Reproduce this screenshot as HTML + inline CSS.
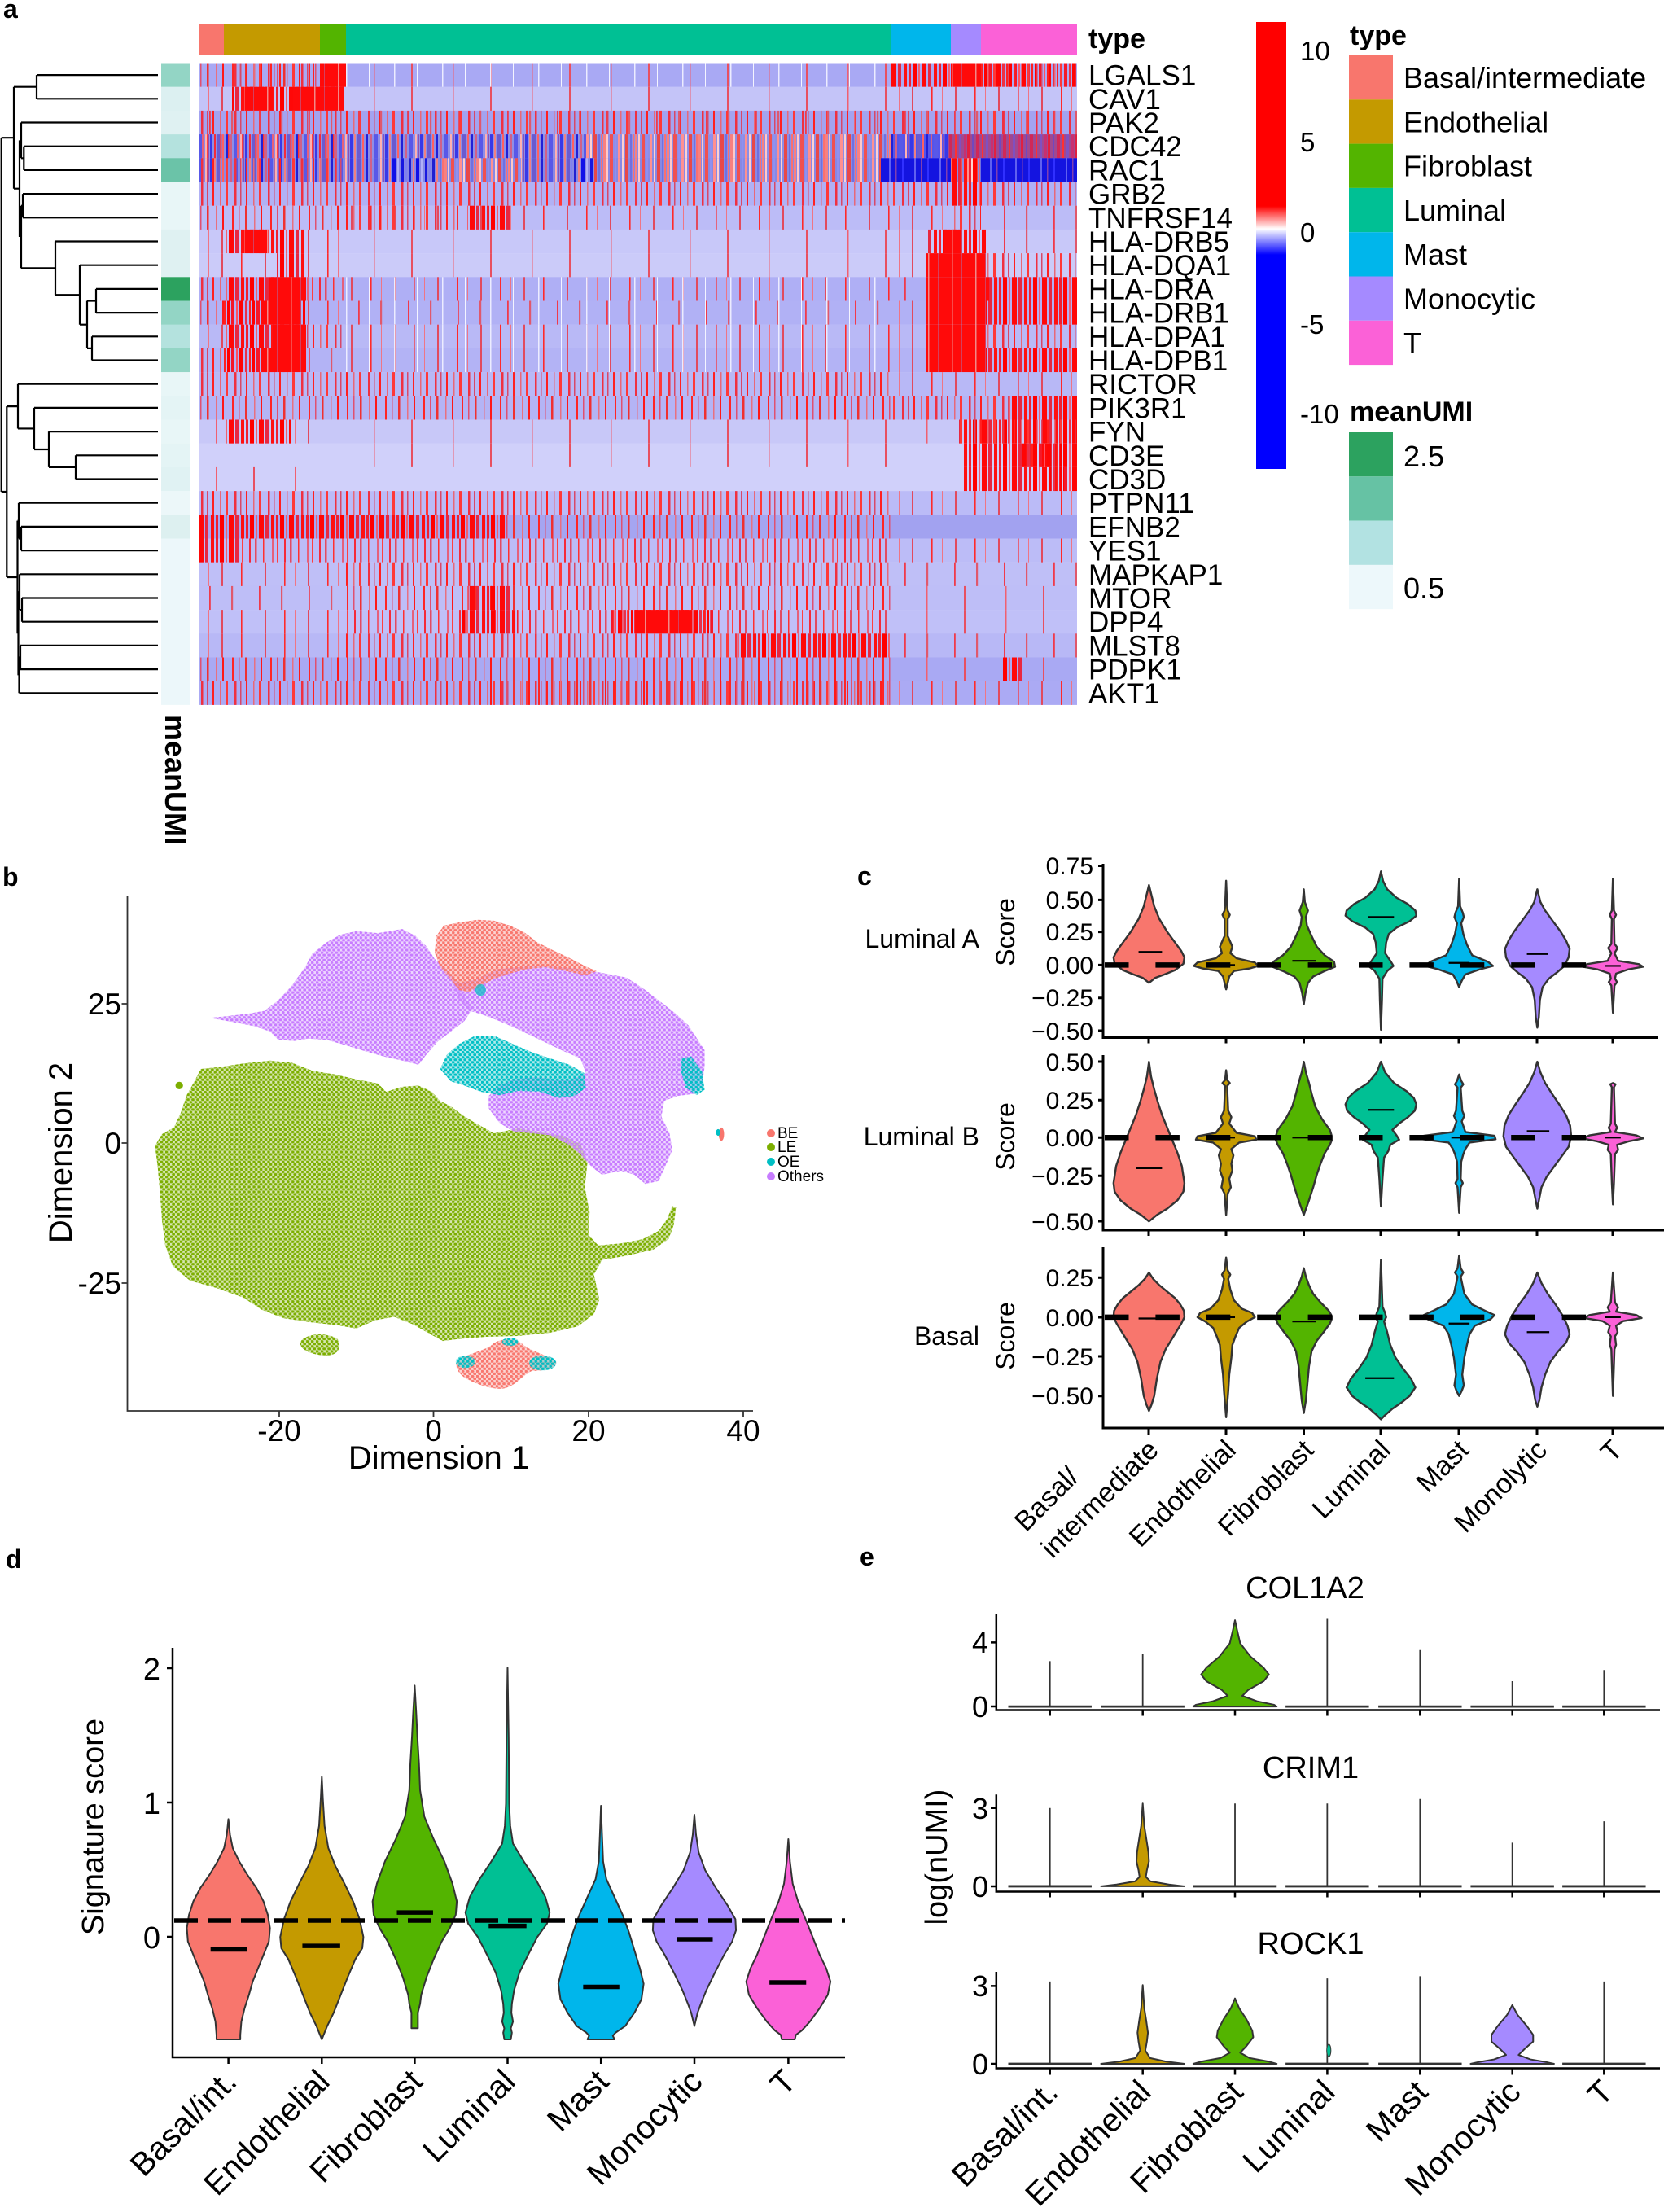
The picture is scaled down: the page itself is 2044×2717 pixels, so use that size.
<!DOCTYPE html>
<html><head><meta charset="utf-8"><style>
html,body{margin:0;padding:0;background:#fff;}
svg{display:block;}
text{font-family:"Liberation Sans",Arial,sans-serif;fill:#000;}
.nv{vector-effect:non-scaling-stroke;}
</style></head><body>
<svg width="2044" height="2717" viewBox="0 0 2044 2717" xmlns="http://www.w3.org/2000/svg">
<defs>
<pattern id="pS" width="53" height="30" patternUnits="userSpaceOnUse"><rect x="7" width="2" height="30" fill="#e24a5e"/><rect x="31" width="1.6" height="30" fill="#ff2a2a"/><rect x="44" width="1" height="30" fill="#ef7585"/></pattern>
<pattern id="pS2" width="97" height="30" patternUnits="userSpaceOnUse"><rect x="20" width="2" height="30" fill="#e85060"/><rect x="71" width="1.5" height="30" fill="#f06070"/></pattern>
<pattern id="pS3" width="61" height="30" patternUnits="userSpaceOnUse"><rect x="13" width="1.8" height="30" fill="#f03a4a"/><rect x="40" width="2.2" height="30" fill="#e0586c"/></pattern>
<pattern id="pM" width="41" height="30" patternUnits="userSpaceOnUse"><rect x="1" width="2.5" height="30" fill="#f03040"/><rect x="8" width="1.5" height="30" fill="#d84868"/><rect x="15" width="2" height="30" fill="#ff2020"/><rect x="24" width="1.5" height="30" fill="#e86878"/><rect x="31" width="3" height="30" fill="#ff3838"/></pattern>
<pattern id="pM2" width="47" height="30" patternUnits="userSpaceOnUse"><rect x="3" width="2" height="30" fill="#ff2525"/><rect x="11" width="1.5" height="30" fill="#e05070"/><rect x="19" width="2.5" height="30" fill="#f03030"/><rect x="30" width="1.5" height="30" fill="#e87080"/><rect x="38" width="2" height="30" fill="#ff1818"/></pattern>
<pattern id="pM3" width="43" height="30" patternUnits="userSpaceOnUse"><rect x="5" width="2" height="30" fill="#f52a3a"/><rect x="12" width="2.5" height="30" fill="#e34a62"/><rect x="22" width="1.5" height="30" fill="#ff3030"/><rect x="33" width="2" height="30" fill="#e6607a"/><rect x="39" width="1" height="30" fill="#ff4040"/></pattern>
<pattern id="pD" width="37" height="30" patternUnits="userSpaceOnUse"><rect x="0" width="4" height="30" fill="#ff1010"/><rect x="6" width="3" height="30" fill="#f02030"/><rect x="11" width="5" height="30" fill="#ff0000"/><rect x="18" width="2" height="30" fill="#f06070"/><rect x="22" width="6" height="30" fill="#ff0808"/><rect x="30" width="4" height="30" fill="#e82840"/></pattern>
<pattern id="pD2" width="31" height="30" patternUnits="userSpaceOnUse"><rect x="0" width="3" height="30" fill="#ff0000"/><rect x="5" width="4" height="30" fill="#f51828"/><rect x="11" width="2" height="30" fill="#ff5060"/><rect x="15" width="5" height="30" fill="#ff0505"/><rect x="22" width="3" height="30" fill="#e8304a"/><rect x="27" width="2" height="30" fill="#ff2020"/></pattern>
<pattern id="pF" width="29" height="30" patternUnits="userSpaceOnUse"><rect width="29" height="30" fill="#ff0a0a"/><rect x="9" width="1.5" height="30" fill="#f08a8a"/><rect x="21" width="1" height="30" fill="#d44060"/></pattern>
<pattern id="pW" width="59" height="30" patternUnits="userSpaceOnUse"><rect x="12" width="1.5" height="30" fill="#ececff"/><rect x="40" width="1" height="30" fill="#f4f4ff"/></pattern>
<pattern id="pB" width="43" height="30" patternUnits="userSpaceOnUse"><rect x="0" width="3" height="30" fill="#3838e8"/><rect x="5" width="2" height="30" fill="#f08080"/><rect x="9" width="4" height="30" fill="#6a5ad0"/><rect x="15" width="2" height="30" fill="#ff6060"/><rect x="19" width="3" height="30" fill="#2020d8"/><rect x="25" width="2" height="30" fill="#d06088"/><rect x="29" width="5" height="30" fill="#5858e8"/><rect x="37" width="2" height="30" fill="#ffb0b0"/><rect x="40" width="2" height="30" fill="#9050b0"/></pattern>
<pattern id="pBS" width="29" height="30" patternUnits="userSpaceOnUse"><rect x="0" width="3" height="30" fill="#1818e0"/><rect x="5" width="2" height="30" fill="#8080f0"/><rect x="9" width="3" height="30" fill="#2020d0"/><rect x="14" width="2" height="30" fill="#f08080"/><rect x="18" width="4" height="30" fill="#1010e8"/><rect x="24" width="2" height="30" fill="#b0b0f8"/></pattern>
<pattern id="pBD" width="31" height="30" patternUnits="userSpaceOnUse"><rect width="31" height="30" fill="#1414e0"/><rect x="7" width="2" height="30" fill="#6060f0"/><rect x="15" width="1.5" height="30" fill="#8040b0"/><rect x="23" width="2" height="30" fill="#3030ff"/></pattern>
<pattern id="pP" width="39" height="30" patternUnits="userSpaceOnUse"><rect x="0" width="3" height="30" fill="#f88080"/><rect x="4" width="2" height="30" fill="#ffc8c8"/><rect x="8" width="4" height="30" fill="#f05050"/><rect x="14" width="2" height="30" fill="#9090f0"/><rect x="18" width="3" height="30" fill="#ff9090"/><rect x="23" width="2" height="30" fill="#ffd0d0"/><rect x="27" width="4" height="30" fill="#e84848"/><rect x="33" width="2" height="30" fill="#7070e0"/><rect x="36" width="2" height="30" fill="#fa7070"/></pattern>
<pattern id="pRP" width="33" height="30" patternUnits="userSpaceOnUse"><rect width="33" height="30" fill="#a04890"/><rect x="0" width="3" height="30" fill="#e02040"/><rect x="6" width="2" height="30" fill="#7048c0"/><rect x="11" width="4" height="30" fill="#d02858"/><rect x="18" width="2" height="30" fill="#ff3030"/><rect x="23" width="3" height="30" fill="#8050c0"/><rect x="29" width="3" height="30" fill="#c83070"/></pattern>
<linearGradient id="cbar" x1="0" y1="0" x2="0" y2="1"><stop offset="0" stop-color="#ff0000"/><stop offset="0.412" stop-color="#ff0000"/><stop offset="0.463" stop-color="#ffffff"/><stop offset="0.521" stop-color="#0000ff"/><stop offset="1" stop-color="#0000ff"/></linearGradient>
<pattern id="dG" width="9" height="12" patternUnits="userSpaceOnUse"><rect width="9" height="12" fill="#7CAE00" fill-opacity="0.3"/><circle cx="2" cy="3" r="3.2" fill="#7CAE00"/><circle cx="6.5" cy="9" r="3.2" fill="#7CAE00"/></pattern>
<pattern id="dP" width="9" height="12" patternUnits="userSpaceOnUse"><rect width="9" height="12" fill="#C77CFF" fill-opacity="0.3"/><circle cx="2" cy="3" r="3.2" fill="#C77CFF"/><circle cx="6.5" cy="9" r="3.2" fill="#C77CFF"/></pattern>
<pattern id="dR" width="9" height="12" patternUnits="userSpaceOnUse"><rect width="9" height="12" fill="#F8766D" fill-opacity="0.3"/><circle cx="2" cy="3" r="3.2" fill="#F8766D"/><circle cx="6.5" cy="9" r="3.2" fill="#F8766D"/></pattern>
<pattern id="dC" width="9" height="12" patternUnits="userSpaceOnUse"><rect width="9" height="12" fill="#00BFC4" fill-opacity="0.3"/><circle cx="2" cy="3" r="3.2" fill="#00BFC4"/><circle cx="6.5" cy="9" r="3.2" fill="#00BFC4"/></pattern>
</defs>
<rect width="2044" height="2717" fill="#fff"/>

<!-- ================= PANEL A ================= -->
<text x="4" y="22" font-size="32" font-weight="bold">a</text>
<rect x="245" y="29" width="30" height="38" fill="#F8766D"/>
<rect x="275" y="29" width="118" height="38" fill="#C49A00"/>
<rect x="393" y="29" width="32" height="38" fill="#53B400"/>
<rect x="425" y="29" width="669" height="38" fill="#00C094"/>
<rect x="1094" y="29" width="74" height="38" fill="#00B6EB"/>
<rect x="1168" y="29" width="37" height="38" fill="#A58AFF"/>
<rect x="1205" y="29" width="118" height="38" fill="#FB61D7"/>
<text x="1337" y="59" font-size="34" font-weight="bold">type</text>

<g transform="translate(0,77.5)"><rect x="245" width="1078" height="29.4" fill="#a9a9f4"/><rect x="245" width="148" height="29.4" fill="url(#pM2)"/><rect x="280" width="113" height="29.4" fill="url(#pM)"/><rect x="393" width="32" height="29.4" fill="url(#pF)"/><rect x="425" width="669" height="29.4" fill="url(#pS2)"/><rect x="425" width="669" height="29.4" fill="url(#pW)"/><rect x="1094" width="74" height="29.4" fill="url(#pD)"/><rect x="1168" width="37" height="29.4" fill="url(#pF)"/><rect x="1205" width="118" height="29.4" fill="url(#pD2)"/><rect x="1205" width="118" height="29.4" fill="url(#pM)"/></g>
<g transform="translate(0,106.7)"><rect x="245" width="1078" height="29.4" fill="#c4c4f8"/><rect x="245" width="40" height="29.4" fill="url(#pS)"/><rect x="285" width="140" height="29.4" fill="url(#pD)"/><rect x="300" width="35" height="29.4" fill="url(#pF)"/><rect x="360" width="62" height="29.4" fill="url(#pF)"/><rect x="425" width="669" height="29.4" fill="url(#pS2)"/><rect x="1094" width="229" height="29.4" fill="url(#pS)"/></g>
<g transform="translate(0,135.9)"><rect x="245" width="1078" height="29.4" fill="#a3a3f0"/><rect x="245" width="1078" height="29.4" fill="url(#pM)"/><rect x="245" width="1078" height="29.4" fill="url(#pS3)"/></g>
<g transform="translate(0,165.1)"><rect x="245" width="1078" height="29.4" fill="#8e8ee6"/><rect x="245" width="475" height="29.4" fill="url(#pB)"/><rect x="245" width="180" height="29.4" fill="url(#pM3)"/><rect x="720" width="374" height="29.4" fill="url(#pP)"/><rect x="1094" width="70" height="29.4" fill="#5454ec"/><rect x="1094" width="70" height="29.4" fill="url(#pB)"/><rect x="1164" width="159" height="29.4" fill="url(#pRP)"/></g>
<g transform="translate(0,194.3)"><rect x="245" width="1078" height="29.4" fill="#8888e4"/><rect x="245" width="235" height="29.4" fill="url(#pB)"/><rect x="245" width="180" height="29.4" fill="url(#pM)"/><rect x="480" width="60" height="29.4" fill="url(#pBS)"/><rect x="540" width="100" height="29.4" fill="url(#pP)"/><rect x="640" width="60" height="29.4" fill="url(#pB)"/><rect x="700" width="30" height="29.4" fill="url(#pBS)"/><rect x="730" width="352" height="29.4" fill="url(#pP)"/><rect x="1082" width="86" height="29.4" fill="url(#pBD)"/><rect x="1168" width="37" height="29.4" fill="url(#pP)"/><rect x="1168" width="37" height="29.4" fill="url(#pD)"/><rect x="1205" width="118" height="29.4" fill="url(#pBD)"/></g>
<g transform="translate(0,223.5)"><rect x="245" width="1078" height="29.4" fill="#b1b1f5"/><rect x="245" width="1078" height="29.4" fill="url(#pM)"/><rect x="1168" width="37" height="29.4" fill="url(#pD)"/></g>
<g transform="translate(0,252.7)"><rect x="245" width="1078" height="29.4" fill="#bcbcf7"/><rect x="245" width="180" height="29.4" fill="url(#pM2)"/><rect x="425" width="669" height="29.4" fill="url(#pS)"/><rect x="425" width="135" height="29.4" fill="url(#pM)"/><rect x="574" width="52" height="29.4" fill="url(#pD)"/><rect x="1094" width="74" height="29.4" fill="url(#pS)"/><rect x="1168" width="37" height="29.4" fill="url(#pM)"/><rect x="1205" width="118" height="29.4" fill="url(#pS3)"/></g>
<g transform="translate(0,281.9)"><rect x="245" width="1078" height="29.4" fill="#c8c8f9"/><rect x="245" width="30" height="29.4" fill="url(#pS)"/><rect x="275" width="101" height="29.4" fill="url(#pD)"/><rect x="300" width="30" height="29.4" fill="url(#pF)"/><rect x="376" width="49" height="29.4" fill="url(#pS)"/><rect x="425" width="669" height="29.4" fill="url(#pS2)"/><rect x="1094" width="46" height="29.4" fill="url(#pS)"/><rect x="1140" width="71" height="29.4" fill="url(#pD)"/><rect x="1160" width="22" height="29.4" fill="url(#pF)"/><rect x="1211" width="112" height="29.4" fill="url(#pS3)"/></g>
<g transform="translate(0,311.1)"><rect x="245" width="1078" height="29.4" fill="#cbcbf9"/><rect x="245" width="95" height="29.4" fill="url(#pS)"/><rect x="340" width="36" height="29.4" fill="url(#pD)"/><rect x="376" width="49" height="29.4" fill="url(#pS)"/><rect x="425" width="669" height="29.4" fill="url(#pS2)"/><rect x="1094" width="44" height="29.4" fill="url(#pS)"/><rect x="1138" width="73" height="29.4" fill="url(#pF)"/><rect x="1211" width="112" height="29.4" fill="url(#pM)"/></g>
<g transform="translate(0,340.3)"><rect x="245" width="1078" height="29.4" fill="#afaff5"/><rect x="245" width="30" height="29.4" fill="url(#pM)"/><rect x="275" width="101" height="29.4" fill="url(#pD)"/><rect x="330" width="46" height="29.4" fill="url(#pF)"/><rect x="376" width="49" height="29.4" fill="url(#pM3)"/><rect x="425" width="669" height="29.4" fill="url(#pS)"/><rect x="425" width="669" height="29.4" fill="url(#pW)"/><rect x="1094" width="44" height="29.4" fill="url(#pS3)"/><rect x="1138" width="77" height="29.4" fill="url(#pF)"/><rect x="1215" width="108" height="29.4" fill="url(#pD)"/></g>
<g transform="translate(0,369.5)"><rect x="245" width="1078" height="29.4" fill="#b1b1f5"/><rect x="245" width="30" height="29.4" fill="url(#pM2)"/><rect x="275" width="101" height="29.4" fill="url(#pD2)"/><rect x="320" width="50" height="29.4" fill="url(#pF)"/><rect x="376" width="49" height="29.4" fill="url(#pS)"/><rect x="425" width="669" height="29.4" fill="url(#pS3)"/><rect x="425" width="669" height="29.4" fill="url(#pW)"/><rect x="1094" width="44" height="29.4" fill="url(#pS)"/><rect x="1138" width="73" height="29.4" fill="url(#pF)"/><rect x="1211" width="112" height="29.4" fill="url(#pD)"/></g>
<g transform="translate(0,398.7)"><rect x="245" width="1078" height="29.4" fill="#b9b9f6"/><rect x="245" width="30" height="29.4" fill="url(#pS)"/><rect x="275" width="101" height="29.4" fill="url(#pD)"/><rect x="335" width="41" height="29.4" fill="url(#pF)"/><rect x="376" width="49" height="29.4" fill="url(#pM)"/><rect x="425" width="669" height="29.4" fill="url(#pS)"/><rect x="425" width="669" height="29.4" fill="url(#pW)"/><rect x="1094" width="44" height="29.4" fill="url(#pS)"/><rect x="1138" width="73" height="29.4" fill="url(#pF)"/><rect x="1211" width="112" height="29.4" fill="url(#pM)"/></g>
<g transform="translate(0,427.9)"><rect x="245" width="1078" height="29.4" fill="#b3b3f5"/><rect x="245" width="30" height="29.4" fill="url(#pM)"/><rect x="275" width="101" height="29.4" fill="url(#pD2)"/><rect x="320" width="56" height="29.4" fill="url(#pF)"/><rect x="376" width="49" height="29.4" fill="url(#pS3)"/><rect x="425" width="669" height="29.4" fill="url(#pS)"/><rect x="425" width="669" height="29.4" fill="url(#pW)"/><rect x="1094" width="44" height="29.4" fill="url(#pS)"/><rect x="1138" width="73" height="29.4" fill="url(#pF)"/><rect x="1211" width="112" height="29.4" fill="url(#pD)"/></g>
<g transform="translate(0,457.1)"><rect x="245" width="1078" height="29.4" fill="#b8b8f6"/><rect x="245" width="849" height="29.4" fill="url(#pM)"/><rect x="1094" width="229" height="29.4" fill="url(#pS)"/></g>
<g transform="translate(0,486.3)"><rect x="245" width="1078" height="29.4" fill="#b4b4f5"/><rect x="245" width="849" height="29.4" fill="url(#pM2)"/><rect x="1094" width="146" height="29.4" fill="url(#pM)"/><rect x="1240" width="83" height="29.4" fill="url(#pD)"/></g>
<g transform="translate(0,515.5)"><rect x="245" width="1078" height="29.4" fill="#c8c8f8"/><rect x="245" width="33" height="29.4" fill="url(#pS2)"/><rect x="278" width="80" height="29.4" fill="url(#pD)"/><rect x="358" width="42" height="29.4" fill="url(#pS)"/><rect x="425" width="669" height="29.4" fill="url(#pS2)"/><rect x="1094" width="84" height="29.4" fill="url(#pS2)"/><rect x="1178" width="145" height="29.4" fill="url(#pD)"/><rect x="1178" width="145" height="29.4" fill="url(#pM)"/></g>
<g transform="translate(0,544.7)"><rect x="245" width="1078" height="29.4" fill="#d0d0fa"/><rect x="425" width="669" height="29.4" fill="url(#pS2)"/><rect x="1182" width="141" height="29.4" fill="url(#pD)"/><rect x="1255" width="50" height="29.4" fill="url(#pD2)"/></g>
<g transform="translate(0,573.9)"><rect x="245" width="1078" height="29.4" fill="#d0d0fa"/><rect x="245" width="155" height="29.4" fill="url(#pS2)"/><rect x="1182" width="141" height="29.4" fill="url(#pD)"/><rect x="1288" width="35" height="29.4" fill="url(#pD2)"/></g>
<g transform="translate(0,603.1)"><rect x="245" width="1078" height="29.4" fill="#bbbbf7"/><rect x="245" width="849" height="29.4" fill="url(#pM)"/><rect x="1094" width="229" height="29.4" fill="url(#pS)"/></g>
<g transform="translate(0,632.3)"><rect x="245" width="1078" height="29.4" fill="#a5a5f1"/><rect x="245" width="377" height="29.4" fill="url(#pD)"/><rect x="622" width="472" height="29.4" fill="url(#pM2)"/><rect x="1094" width="229" height="29.4" fill="#a2a2f0"/></g>
<g transform="translate(0,661.5)"><rect x="245" width="1078" height="29.4" fill="#bcbcf7"/><rect x="245" width="51" height="29.4" fill="url(#pD)"/><rect x="296" width="798" height="29.4" fill="url(#pM3)"/><rect x="1094" width="229" height="29.4" fill="url(#pS)"/></g>
<g transform="translate(0,690.7)"><rect x="245" width="1078" height="29.4" fill="#bfbff7"/><rect x="245" width="180" height="29.4" fill="url(#pS)"/><rect x="425" width="669" height="29.4" fill="url(#pM)"/><rect x="1094" width="229" height="29.4" fill="url(#pS3)"/></g>
<g transform="translate(0,719.9)"><rect x="245" width="1078" height="29.4" fill="#bebef7"/><rect x="245" width="180" height="29.4" fill="url(#pS3)"/><rect x="425" width="669" height="29.4" fill="url(#pM2)"/><rect x="574" width="55" height="29.4" fill="url(#pD)"/><rect x="1094" width="229" height="29.4" fill="url(#pS2)"/></g>
<g transform="translate(0,749.1)"><rect x="245" width="1078" height="29.4" fill="#c0c0f8"/><rect x="245" width="180" height="29.4" fill="url(#pS)"/><rect x="425" width="669" height="29.4" fill="url(#pM3)"/><rect x="567" width="69" height="29.4" fill="url(#pD)"/><rect x="751" width="125" height="29.4" fill="url(#pD2)"/><rect x="780" width="70" height="29.4" fill="url(#pF)"/><rect x="1094" width="229" height="29.4" fill="url(#pS2)"/></g>
<g transform="translate(0,778.3)"><rect x="245" width="1078" height="29.4" fill="#b8b8f6"/><rect x="245" width="180" height="29.4" fill="url(#pS)"/><rect x="425" width="482" height="29.4" fill="url(#pM)"/><rect x="907" width="187" height="29.4" fill="url(#pD)"/><rect x="1094" width="229" height="29.4" fill="url(#pS3)"/></g>
<g transform="translate(0,807.5)"><rect x="245" width="1078" height="29.4" fill="#a9a9f3"/><rect x="245" width="849" height="29.4" fill="url(#pM2)"/><rect x="1094" width="229" height="29.4" fill="url(#pS2)"/><rect x="1230" width="25" height="29.4" fill="url(#pD)"/></g>
<g transform="translate(0,836.7)"><rect x="245" width="1078" height="29.2" fill="#abaaf4"/><rect x="245" width="849" height="29.2" fill="url(#pM)"/><rect x="600" width="494" height="29.2" fill="url(#pM2)"/><rect x="1094" width="229" height="29.2" fill="url(#pS)"/></g>

<g>
<rect x="198" y="77.5" width="36" height="29.4" fill="#93d5c5"/>
<rect x="198" y="106.7" width="36" height="29.4" fill="#dcf0f1"/>
<rect x="198" y="135.9" width="36" height="29.4" fill="#dff1f2"/>
<rect x="198" y="165.1" width="36" height="29.4" fill="#b4e2de"/>
<rect x="198" y="194.3" width="36" height="29.4" fill="#6bc3a8"/>
<rect x="198" y="223.5" width="36" height="58.6" fill="#e8f6f7"/>
<rect x="198" y="281.9" width="36" height="58.6" fill="#dff1f2"/>
<rect x="198" y="340.3" width="36" height="29.4" fill="#2ca25f"/>
<rect x="198" y="369.5" width="36" height="29.4" fill="#93d5c5"/>
<rect x="198" y="398.7" width="36" height="29.4" fill="#b4e2de"/>
<rect x="198" y="427.9" width="36" height="29.4" fill="#93d5c5"/>
<rect x="198" y="457.1" width="36" height="29.4" fill="#e8f6f7"/>
<rect x="198" y="486.3" width="36" height="29.4" fill="#e4f4f5"/>
<rect x="198" y="515.5" width="36" height="29.4" fill="#e8f6f7"/>
<rect x="198" y="544.7" width="36" height="29.4" fill="#e4f4f5"/>
<rect x="198" y="573.9" width="36" height="29.4" fill="#e0f2f3"/>
<rect x="198" y="603.1" width="36" height="29.4" fill="#ecf7f9"/>
<rect x="198" y="632.3" width="36" height="29.4" fill="#ddf0f0"/>
<rect x="198" y="661.5" width="36" height="204.4" fill="#ecf7fa"/>
</g>
<text transform="translate(203,878) rotate(90)" font-size="36" font-weight="bold">meanUMI</text>

<path fill="none" stroke="#000" stroke-width="2.2" d="M45,92.1H194 M45,121.3H194 M26,150.5H194 M29.3,179.7H194 M29.3,208.9H194 M28,238.1H194 M28,267.3H194 M68,296.5H194 M98,325.7H194 M118,354.9H194 M118,384.1H194 M113,413.3H194 M113,442.5H194 M22,471.7H194 M42,500.9H194 M60,530.1H194 M93,559.3H194 M93,588.5H194 M23,617.7H194 M26,646.9H194 M26,676.1H194 M24,705.3H194 M27,734.5H194 M27,763.7H194 M25,792.9H194 M25,822.1H194 M23.5,851.3H194
M45,92.1V121.3 M29.3,179.7V208.9 M26,150.5V194.3 M28,238.1V267.3 M118,354.9V384.1 M113,413.3V442.5 M107,369.5V427.9 M98,325.7V398.7 M68,296.5V362.2 M26,252.7V329.35 M24,172.4V291 M17,106.7V231.7 M1.7,169.2V604
M93,559.3V588.5 M60,530.1V573.9 M42,500.9V552 M22,471.7V526.45 M8.3,499.1V709
M26,646.9V676.1 M23,617.7V661.5 M27,734.5V763.7 M24,705.3V749.1 M25,792.9V822.1 M23.5,807.5V851.3 M22.5,727.2V829.4 M21.5,639.6V778.3
M17,106.7H45 M26,194.3H29.3 M24,172.4H26 M26,252.7H28 M107,369.5H118 M107,427.9H113 M98,398.7H107 M68,362.2H98 M26,329.35H68 M24,291H26 M17,231.7H24 M1.7,169.2H17
M60,573.9H93 M42,552H60 M22,526.45H42 M8.3,499.1H22 M23,661.5H26 M21.5,639.6H23 M24,749.1H27 M22.5,727.2H24 M23.5,807.5H25 M22.5,829.4H23.5 M21.5,778.3H22.5 M8.3,709H21.5 M1.7,604H8.3"/>

<g font-size="35">
<text x="1337" y="104.6">LGALS1</text>
<text x="1337" y="133.8">CAV1</text>
<text x="1337" y="163">PAK2</text>
<text x="1337" y="192.2">CDC42</text>
<text x="1337" y="221.4">RAC1</text>
<text x="1337" y="250.6">GRB2</text>
<text x="1337" y="279.8">TNFRSF14</text>
<text x="1337" y="309">HLA-DRB5</text>
<text x="1337" y="338.2">HLA-DQA1</text>
<text x="1337" y="367.4">HLA-DRA</text>
<text x="1337" y="396.6">HLA-DRB1</text>
<text x="1337" y="425.8">HLA-DPA1</text>
<text x="1337" y="455">HLA-DPB1</text>
<text x="1337" y="484.2">RICTOR</text>
<text x="1337" y="513.4">PIK3R1</text>
<text x="1337" y="542.6">FYN</text>
<text x="1337" y="571.8">CD3E</text>
<text x="1337" y="601">CD3D</text>
<text x="1337" y="630.2">PTPN11</text>
<text x="1337" y="659.4">EFNB2</text>
<text x="1337" y="688.6">YES1</text>
<text x="1337" y="717.8">MAPKAP1</text>
<text x="1337" y="747">MTOR</text>
<text x="1337" y="776.2">DPP4</text>
<text x="1337" y="805.4">MLST8</text>
<text x="1337" y="834.6">PDPK1</text>
<text x="1337" y="863.8">AKT1</text>
</g>

<rect x="1543" y="27" width="37" height="549" fill="url(#cbar)"/>
<g font-size="33">
<text x="1597" y="74">10</text>
<text x="1597" y="186">5</text>
<text x="1597" y="297">0</text>
<text x="1597" y="410">-5</text>
<text x="1597" y="520">-10</text>
</g>
<text x="1658" y="55" font-size="34" font-weight="bold">type</text>
<rect x="1657" y="68" width="54" height="54.3" fill="#F8766D"/>
<rect x="1657" y="122.3" width="54" height="54.3" fill="#C49A00"/>
<rect x="1657" y="176.6" width="54" height="54.3" fill="#53B400"/>
<rect x="1657" y="230.9" width="54" height="54.3" fill="#00C094"/>
<rect x="1657" y="285.2" width="54" height="54.3" fill="#00B6EB"/>
<rect x="1657" y="339.5" width="54" height="54.3" fill="#A58AFF"/>
<rect x="1657" y="393.8" width="54" height="54.3" fill="#FB61D7"/>
<g font-size="36">
<text x="1724" y="108">Basal/intermediate</text>
<text x="1724" y="162.3">Endothelial</text>
<text x="1724" y="216.6">Fibroblast</text>
<text x="1724" y="270.9">Luminal</text>
<text x="1724" y="325.2">Mast</text>
<text x="1724" y="379.5">Monocytic</text>
<text x="1724" y="433.8">T</text>
</g>
<text x="1658" y="517" font-size="34" font-weight="bold">meanUMI</text>
<rect x="1657" y="531" width="54" height="54.3" fill="#2ca25f"/>
<rect x="1657" y="585.3" width="54" height="54.3" fill="#66c2a4"/>
<rect x="1657" y="639.6" width="54" height="54.3" fill="#b2e2e2"/>
<rect x="1657" y="693.9" width="54" height="54.3" fill="#edf8fb"/>
<text x="1724" y="573" font-size="36">2.5</text>
<text x="1724" y="735" font-size="36">0.5</text>

<!-- ================= PANEL B ================= -->
<text x="3" y="1088" font-size="32" font-weight="bold">b</text>
<g transform="translate(0,1040) scale(0.66327,0.5102)">
<path fill="url(#dG)" d="M372,535 L410,530 450,522 500,515 540,520 580,540 620,548 660,560 700,570 715,590 745,578 775,575 800,590 815,612 835,625 855,645 880,665 915,690 960,678 1000,688 1040,695 1075,715 1088,760 1083,820 1092,880 1090,935 1108,960 1150,955 1190,945 1220,925 1236,895 1245,865 1252,868 1248,910 1238,945 1210,970 1160,985 1115,995 1100,1030 1110,1090 1100,1125 1070,1155 1020,1170 960,1178 900,1180 850,1185 820,1190 795,1172 765,1150 730,1132 695,1140 660,1160 625,1152 575,1145 525,1135 485,1115 450,1085 400,1062 352,1045 320,1010 306,960 300,900 296,830 292,770 287,720 300,692 322,676 335,640 345,600 360,565 Z"/>
<path fill="url(#dG)" d="M555,1195 C560,1175 600,1165 625,1185 C635,1205 625,1228 600,1225 C580,1222 558,1215 555,1195 Z"/>
<ellipse cx="332" cy="575" rx="7" ry="9" fill="#7CAE00"/>
<path fill="url(#dP)" d="M388,412 L420,408 460,402 490,395 515,370 540,335 565,290 578,258 605,230 630,212 660,203 700,208 745,198 770,215 790,240 805,270 830,300 850,330 860,360 875,390 860,420 835,445 810,470 790,500 775,525 745,515 710,505 670,490 640,478 605,465 570,462 545,468 515,465 500,445 470,432 430,422 Z"/>
<path fill="url(#dP)" d="M840,330 L880,320 920,295 960,290 1000,285 1040,290 1080,295 1120,305 1160,315 1190,340 1220,370 1250,400 1275,430 1290,460 1305,490 1305,530 1300,575 1285,595 1255,600 1230,612 1225,650 1240,690 1245,730 1232,770 1220,805 1195,812 1175,790 1150,780 1115,790 1095,770 1075,740 1050,715 1020,695 985,690 950,685 925,665 905,630 905,600 925,575 950,560 990,555 1030,560 1060,560 1085,545 1075,510 1040,490 1000,465 960,440 925,420 895,405 870,395 850,370 Z"/>
<path fill="url(#dR)" d="M805,255 L808,215 822,190 850,182 885,176 915,178 945,190 970,205 995,230 1025,250 1055,268 1080,285 1105,300 1085,310 1050,300 1010,290 975,295 945,305 915,318 890,335 868,350 850,345 835,320 815,290 Z"/>
<path fill="url(#dC)" d="M815,535 L828,500 850,475 880,455 915,455 950,475 985,495 1020,510 1055,525 1082,545 1085,580 1065,600 1035,605 1000,590 960,588 925,598 890,590 860,575 835,565 Z"/>
<path fill="url(#dC)" d="M1262,510 L1280,505 1300,540 1305,585 1290,598 1270,580 1262,545 Z"/>
<ellipse cx="890" cy="345" rx="10" ry="14" fill="#00BFC4" fill-opacity="0.7"/>
<path fill="url(#dR)" d="M846,1240 C860,1222 895,1215 910,1200 C925,1182 955,1180 970,1200 C985,1215 1010,1222 1030,1240 C1032,1258 1000,1262 985,1262 C965,1275 955,1300 930,1305 C905,1306 880,1292 862,1280 C850,1268 842,1255 846,1240 Z"/>
<ellipse cx="862" cy="1240" rx="18" ry="15" fill="url(#dC)"/>
<ellipse cx="1005" cy="1243" rx="25" ry="18" fill="url(#dC)"/>
<ellipse cx="945" cy="1192" rx="15" ry="10" fill="url(#dC)"/>
<ellipse cx="1336" cy="692" rx="5" ry="16" fill="#F8766D"/>
<ellipse cx="1330" cy="688" rx="4" ry="8" fill="#00BFC4"/>
</g>
<g stroke="#333" stroke-width="1.8" fill="none">
<path d="M156.5,1101V1733H925"/>
<path d="M343,1733v7 M532.5,1733v7 M723,1733v7 M913,1733v7 M156.5,1233h-7 M156.5,1404h-7 M156.5,1576h-7"/>
</g>
<g font-size="37" text-anchor="middle">
<text x="343" y="1770">-20</text>
<text x="532.5" y="1770">0</text>
<text x="723" y="1770">20</text>
<text x="913" y="1770">40</text>
</g>
<g font-size="37" text-anchor="end">
<text x="149" y="1246">25</text>
<text x="149" y="1417">0</text>
<text x="149" y="1589">-25</text>
</g>
<text x="539" y="1804" font-size="40" text-anchor="middle">Dimension 1</text>
<text transform="translate(88,1416) rotate(-90)" font-size="40" text-anchor="middle">Dimension 2</text>
<circle cx="947" cy="1392" r="5" fill="#F8766D"/>
<circle cx="947" cy="1409" r="5" fill="#7CAE00"/>
<circle cx="947" cy="1427" r="5" fill="#00BFC4"/>
<circle cx="947" cy="1445" r="5" fill="#C77CFF"/>
<g font-size="19">
<text x="955" y="1398">BE</text>
<text x="955" y="1415">LE</text>
<text x="955" y="1433">OE</text>
<text x="955" y="1451">Others</text>
</g>

<!-- ================= PANEL C ================= -->
<text x="1053" y="1087" font-size="32" font-weight="bold">c</text>
<g transform="translate(1040,1040) scale(0.64029,0.52301)" stroke="#333" stroke-width="2.4" stroke-linejoin="round">
<path class="nv" fill="#F8766D" d="M580,90 L584,110 590,140 600,170 615,200 630,225 642,245 648,260 646,275 630,290 610,300 592,308 580,320 568,308 550,300 530,290 514,275 512,260 518,245 530,225 545,200 560,170 570,140 576,110 Z"/>
<path class="nv" fill="#C49A00" d="M728,80 L730,140 731,150 735,160 731,170 731,210 733,215 740,235 736,250 748,262 783,272 790,280 773,286 743,292 734,305 731,320 728,335 725,320 722,305 713,292 683,286 666,280 673,272 708,262 720,250 716,235 723,215 725,210 725,170 721,160 725,150 726,140 Z"/>
<path class="nv" fill="#53B400" d="M877,100 L879,130 885,150 881,165 883,185 892,210 902,235 917,255 935,270 937,282 917,292 895,305 885,320 880,345 877,370 874,345 869,320 859,305 837,292 817,282 819,270 837,255 852,235 862,210 871,185 873,165 869,150 875,130 Z"/>
<path class="nv" fill="#00C094" d="M1025,58 L1029,80 1037,100 1055,120 1077,135 1091,150 1093,162 1080,175 1055,190 1040,205 1035,225 1033,250 1043,268 1049,280 1037,292 1028,310 1027,360 1025,430 1023,360 1022,310 1013,292 1001,280 1007,268 1017,250 1015,225 1010,205 995,190 970,175 957,162 959,150 973,135 995,120 1013,100 1021,80 Z"/>
<path class="nv" fill="#00B6EB" d="M1175,75 L1177,140 1182,155 1184,165 1179,180 1183,205 1190,230 1200,255 1230,270 1240,280 1215,288 1187,300 1180,315 1175,330 1170,315 1163,300 1135,288 1110,280 1120,270 1150,255 1160,230 1167,205 1171,180 1166,165 1168,155 1173,140 Z"/>
<path class="nv" fill="#A58AFF" d="M1325,100 L1331,130 1340,150 1355,175 1370,200 1380,220 1387,240 1385,260 1377,280 1363,295 1347,310 1335,330 1330,360 1328,400 1325,425 1322,400 1320,360 1315,330 1303,310 1287,295 1273,280 1265,260 1263,240 1270,220 1280,200 1295,175 1310,150 1319,130 Z"/>
<path class="nv" fill="#FB61D7" d="M1470,75 L1472,150 1476,160 1472,170 1473,228 1479,238 1473,250 1480,268 1520,276 1528,282 1500,288 1476,298 1474,310 1478,318 1473,326 1470,390 1467,326 1462,318 1466,310 1464,298 1440,288 1412,282 1420,276 1460,268 1467,250 1461,238 1467,228 1468,170 1464,160 1468,150 Z"/>
<path class="nv" fill="#F8766D" d="M580,505 L584,540 590,570 597,600 605,630 615,660 625,690 635,720 643,750 648,790 646,810 635,830 615,850 595,865 580,880 565,865 545,850 525,830 514,810 512,790 517,750 525,720 535,690 545,660 555,630 563,600 570,570 576,540 Z"/>
<path class="nv" fill="#C49A00" d="M728,525 L730,548 735,555 730,562 732,620 738,635 734,650 748,672 783,680 786,688 753,695 738,710 742,725 738,745 740,760 734,780 737,800 731,815 728,865 725,815 719,800 722,780 716,760 718,745 714,725 718,710 703,695 670,688 673,680 708,672 722,650 718,635 724,620 726,562 721,555 726,548 Z"/>
<path class="nv" fill="#53B400" d="M877,505 L881,530 887,555 892,580 899,610 912,640 927,665 932,685 927,700 917,720 909,745 902,770 895,800 887,830 877,865 867,830 859,800 852,770 845,745 837,720 827,700 822,685 827,665 842,640 855,610 862,580 867,555 873,530 Z"/>
<path class="nv" fill="#00C094" d="M1025,505 L1033,530 1050,555 1075,575 1088,590 1093,605 1090,620 1077,635 1060,650 1047,665 1055,678 1060,688 1043,700 1039,715 1031,730 1028,780 1025,845 1022,780 1019,730 1011,715 1007,700 990,688 995,678 1003,665 990,650 973,635 960,620 957,605 962,590 975,575 1000,555 1017,530 Z"/>
<path class="nv" fill="#00B6EB" d="M1175,535 L1179,550 1183,558 1178,566 1181,620 1185,632 1180,645 1187,670 1243,679 1245,687 1195,695 1187,710 1183,722 1179,740 1178,780 1182,790 1178,800 1175,860 1172,800 1168,790 1172,780 1171,740 1167,722 1163,710 1155,695 1105,687 1107,679 1163,670 1170,645 1165,632 1169,620 1172,566 1167,558 1171,550 Z"/>
<path class="nv" fill="#A58AFF" d="M1325,505 L1331,530 1340,555 1353,580 1367,605 1380,630 1388,655 1390,680 1385,705 1370,730 1355,755 1343,775 1333,800 1325,850 1317,800 1307,775 1295,755 1280,730 1265,705 1260,680 1262,655 1270,630 1283,605 1297,580 1310,555 1319,530 Z"/>
<path class="nv" fill="#FB61D7" d="M1470,555 L1475,558 1472,565 1474,650 1478,660 1474,670 1515,678 1528,685 1500,692 1478,700 1480,712 1474,722 1472,790 1470,840 1468,790 1466,722 1460,712 1462,700 1440,692 1412,685 1425,678 1466,670 1462,660 1466,650 1468,565 1465,558 Z"/>
<path class="nv" fill="#F8766D" d="M580,1000 L588,1015 600,1030 615,1045 630,1060 640,1075 647,1090 648,1105 642,1120 632,1140 622,1160 612,1180 602,1210 595,1250 590,1290 585,1310 580,1325 575,1310 570,1290 565,1250 558,1210 548,1180 538,1160 528,1140 518,1120 512,1105 513,1090 520,1075 530,1060 545,1045 560,1030 572,1015 Z"/>
<path class="nv" fill="#C49A00" d="M728,965 L731,995 736,1005 732,1015 736,1040 743,1065 758,1085 778,1095 783,1105 768,1115 753,1130 746,1150 740,1170 738,1200 734,1240 732,1280 728,1340 724,1280 722,1240 718,1200 716,1170 710,1150 703,1130 688,1115 673,1105 678,1095 698,1085 713,1065 720,1040 724,1015 720,1005 725,995 Z"/>
<path class="nv" fill="#53B400" d="M877,990 L881,1010 887,1030 895,1050 909,1070 925,1090 932,1105 927,1120 915,1140 902,1160 892,1185 887,1220 884,1260 881,1300 877,1330 873,1300 870,1260 867,1220 862,1185 852,1160 839,1140 827,1120 822,1105 829,1090 845,1070 859,1050 867,1030 873,1010 Z"/>
<path class="nv" fill="#00C094" d="M1025,970 L1028,1080 1033,1095 1035,1105 1031,1115 1037,1140 1043,1170 1053,1200 1067,1225 1083,1250 1091,1270 1080,1290 1065,1305 1047,1320 1033,1335 1025,1345 1017,1335 1003,1320 985,1305 970,1290 959,1270 967,1250 983,1225 997,1200 1007,1170 1013,1140 1019,1115 1015,1105 1017,1095 1022,1080 Z"/>
<path class="nv" fill="#00B6EB" d="M1175,960 L1178,990 1183,1000 1178,1010 1185,1050 1200,1075 1225,1090 1243,1100 1235,1110 1205,1125 1195,1145 1190,1170 1185,1200 1181,1240 1184,1265 1180,1278 1175,1290 1170,1278 1166,1265 1169,1240 1165,1200 1160,1170 1155,1145 1145,1125 1115,1110 1107,1100 1125,1090 1150,1075 1165,1050 1172,1010 1167,1000 1172,990 Z"/>
<path class="nv" fill="#A58AFF" d="M1325,1000 L1333,1025 1345,1050 1360,1075 1373,1100 1383,1125 1387,1145 1380,1165 1365,1185 1350,1210 1340,1240 1333,1270 1329,1300 1325,1315 1321,1300 1317,1270 1310,1240 1300,1210 1285,1185 1270,1165 1263,1145 1267,1125 1277,1100 1290,1075 1305,1050 1317,1025 Z"/>
<path class="nv" fill="#FB61D7" d="M1470,1000 L1474,1070 1480,1082 1476,1092 1515,1100 1525,1107 1490,1114 1476,1125 1479,1140 1474,1150 1476,1170 1473,1180 1470,1290 1467,1180 1464,1170 1466,1150 1461,1140 1464,1125 1450,1114 1415,1107 1425,1100 1464,1092 1460,1082 1466,1070 Z"/>
<path class="nv" stroke="#000" stroke-width="2.2" fill="none" d="M560,247H605 M710,278H745 M855,268H900 M1000,165H1050 M1155,273H1195 M1305,252H1345 M1455,280H1485 M555,755H605 M710,683H745 M855,683H900 M1000,618H1050 M1160,683H1190 M1305,668H1348 M1455,683H1485 M560,1108H610 M710,1105H745 M855,1115H900 M995,1248H1050 M1155,1120H1195 M1305,1140H1348 M1455,1105H1485"/>
</g>
<g stroke="#000" stroke-width="6.5" stroke-dasharray="29.5 32.9" fill="none">
<path d="M1357,1185.4H1950"/>
<path d="M1357,1397.2H1950"/>
<path d="M1357,1617.9H1950"/>
</g>
<g stroke="#000" stroke-width="3" fill="none">
<path d="M1355,1061V1274.5H2037 M1355,1296V1511H2044 M1355,1532V1754H2044"/>
<path d="M1411,1274.5v7 M1506,1274.5v7 M1601.5,1274.5v7 M1696,1274.5v7 M1792,1274.5v7 M1888,1274.5v7 M1981,1274.5v7"/>
<path d="M1411,1511v7 M1506,1511v7 M1601.5,1511v7 M1696,1511v7 M1792,1511v7 M1888,1511v7 M1981,1511v7"/>
<path d="M1411,1754v8 M1506,1754v8 M1601.5,1754v8 M1696,1754v8 M1792,1754v8 M1888,1754v8 M1981,1754v8"/>
<path d="M1349,1063.5h6 M1349,1105.4h6 M1349,1144.6h6 M1349,1185.4h6 M1349,1225.7h6 M1349,1266h6 M1349,1304h6 M1349,1351.2h6 M1349,1397.2h6 M1349,1444.3h6 M1349,1500h6 M1349,1569.3h6 M1349,1618h6 M1349,1666h6 M1349,1714.7h6"/>
</g>
<g font-size="30" text-anchor="end">
<text x="1343" y="1074">0.75</text>
<text x="1343" y="1116">0.50</text>
<text x="1343" y="1155">0.25</text>
<text x="1343" y="1196">0.00</text>
<text x="1343" y="1236">−0.25</text>
<text x="1343" y="1277">−0.50</text>
<text x="1343" y="1315">0.50</text>
<text x="1343" y="1362">0.25</text>
<text x="1343" y="1408">0.00</text>
<text x="1343" y="1455">−0.25</text>
<text x="1343" y="1511">−0.50</text>
<text x="1343" y="1580">0.25</text>
<text x="1343" y="1629">0.00</text>
<text x="1343" y="1677">−0.25</text>
<text x="1343" y="1725">−0.50</text>
</g>
<g font-size="32">
<text x="1203" y="1164" text-anchor="end">Luminal A</text>
<text x="1203" y="1407" text-anchor="end">Luminal B</text>
<text x="1203" y="1652" text-anchor="end">Basal</text>
<text transform="translate(1246,1145) rotate(-90)" text-anchor="middle">Score</text>
<text transform="translate(1246,1396) rotate(-90)" text-anchor="middle">Score</text>
<text transform="translate(1246,1641) rotate(-90)" text-anchor="middle">Score</text>
</g>
<g font-size="34">
<g transform="translate(1425,1783) rotate(-45)"><text text-anchor="end">intermediate</text><text x="-187" y="-46">Basal/</text></g>
<text transform="translate(1520,1783) rotate(-45)" text-anchor="end">Endothelial</text>
<text transform="translate(1615.5,1783) rotate(-45)" text-anchor="end">Fibroblast</text>
<text transform="translate(1710,1783) rotate(-45)" text-anchor="end">Luminal</text>
<text transform="translate(1806,1783) rotate(-45)" text-anchor="end">Mast</text>
<text transform="translate(1902,1783) rotate(-45)" text-anchor="end">Monolytic</text>
<text transform="translate(1995,1783) rotate(-45)" text-anchor="end">T</text>
</g>

<!-- ================= PANEL D ================= -->
<text x="7" y="1926" font-size="32" font-weight="bold">d</text>
<g transform="translate(0,1860) scale(0.66327,0.54657)" stroke="#333" stroke-width="2" stroke-linejoin="round">
<path class="nv" fill="#F8766D" d="M423,685 L426,720 431,750 443,780 458,810 475,840 488,870 496,900 500,930 498,960 488,990 478,1020 468,1050 461,1080 453,1110 447,1140 445,1170 445,1180 401,1180 401,1170 399,1140 393,1110 385,1080 378,1050 368,1020 358,990 348,960 346,930 350,900 358,870 371,840 388,810 403,780 415,750 420,720 Z"/>
<path class="nv" fill="#C49A00" d="M596,590 L598,640 601,700 608,750 621,790 638,830 654,870 666,910 673,950 671,975 658,1000 644,1040 631,1080 618,1120 606,1150 596,1180 586,1150 574,1120 561,1080 548,1040 534,1000 521,975 519,950 526,910 538,870 554,830 571,790 584,750 591,700 594,640 Z"/>
<path class="nv" fill="#53B400" d="M768,385 L771,450 773,500 776,560 778,620 786,680 803,730 823,780 838,830 846,870 844,900 833,930 818,960 803,1000 790,1040 780,1080 778,1100 774,1120 774,1155 762,1155 762,1120 758,1100 756,1080 746,1040 733,1000 718,960 703,930 692,900 690,870 698,830 713,780 733,730 750,680 758,620 760,560 763,500 765,450 Z"/>
<path class="nv" fill="#00C094" d="M940,345 L942,500 943,650 945,700 950,740 970,780 992,820 1010,860 1018,895 1013,920 995,950 978,990 962,1030 952,1070 948,1100 947,1120 950,1140 946,1155 948,1165 946,1180 934,1180 932,1165 934,1155 930,1140 933,1120 932,1100 928,1070 918,1030 902,990 885,950 867,920 862,895 870,860 888,820 910,780 930,740 935,700 937,650 938,500 Z"/>
<path class="nv" fill="#00B6EB" d="M1113,655 L1115,720 1117,780 1123,820 1138,860 1153,900 1165,940 1175,980 1185,1020 1192,1055 1188,1090 1175,1120 1158,1150 1140,1165 1135,1172 1138,1180 1088,1180 1091,1172 1086,1165 1068,1150 1051,1120 1038,1090 1034,1055 1041,1020 1051,980 1061,940 1073,900 1088,860 1103,820 1109,780 1111,720 Z"/>
<path class="nv" fill="#A58AFF" d="M1286,675 L1289,720 1294,760 1306,800 1326,840 1348,880 1362,910 1363,935 1356,960 1341,990 1324,1030 1308,1070 1298,1100 1292,1120 1286,1150 1280,1120 1274,1100 1264,1070 1248,1030 1231,990 1216,960 1209,935 1210,910 1224,880 1246,840 1266,800 1278,760 1283,720 Z"/>
<path class="nv" fill="#FB61D7" d="M1460,730 L1463,780 1468,830 1478,870 1492,910 1505,950 1518,990 1530,1020 1538,1050 1533,1080 1518,1110 1500,1140 1485,1160 1474,1170 1472,1180 1448,1180 1446,1170 1435,1160 1420,1140 1402,1110 1387,1080 1382,1050 1390,1020 1402,990 1415,950 1428,910 1442,870 1452,830 1457,780 Z"/>
<path class="nv" stroke="#000" stroke-width="5.5" fill="none" d="M390,978H457 M560,970H630 M735,895H802 M905,925H975 M1080,1062H1147 M1253,955H1320 M1425,1052H1493"/>
</g>
<path d="M214,2359H1038" stroke="#000" stroke-width="5.5" stroke-dasharray="29 12" fill="none"/>
<g stroke="#000" stroke-width="2.5" fill="none">
<path d="M212,2024V2527H1038"/>
<path d="M280.6,2527v8 M395.3,2527v8 M509.4,2527v8 M623.5,2527v8 M738.2,2527v8 M853,2527v8 M968.4,2527v8 M212,2049h-7 M212,2214h-7 M212,2379h-7"/>
</g>
<g font-size="38" text-anchor="end">
<text x="197" y="2063">2</text>
<text x="197" y="2228">1</text>
<text x="197" y="2393">0</text>
</g>
<text transform="translate(127,2244) rotate(-90)" font-size="38" text-anchor="middle">Signature score</text>
<g font-size="40" text-anchor="end">
<text transform="translate(293,2559) rotate(-45)">Basal/int.</text>
<text transform="translate(407,2559) rotate(-45)">Endothelial</text>
<text transform="translate(521,2559) rotate(-45)">Fibroblast</text>
<text transform="translate(635,2559) rotate(-45)">Luminal</text>
<text transform="translate(750,2559) rotate(-45)">Mast</text>
<text transform="translate(865,2559) rotate(-45)">Monocytic</text>
<text transform="translate(980,2559) rotate(-45)">T</text>
</g>

<!-- ================= PANEL E ================= -->
<text x="1056" y="1923" font-size="32" font-weight="bold">e</text>
<g font-size="38" text-anchor="middle">
<text x="1603" y="1963">COL1A2</text>
<text x="1610" y="2184">CRIM1</text>
<text x="1610" y="2400">ROCK1</text>
</g>
<g transform="translate(1040,1860) scale(0.64029,0.54657)" stroke="#333" stroke-width="2" stroke-linejoin="round">
<path class="nv" fill="none" stroke-width="1.8" d="M390,432V330 M568,432V313 M922,432V235 M1100,432V305 M1277,432V375 M1453,432V350 M390,836V660 M745,836V650 M922,836V650 M1100,836V640 M1277,836V738 M1453,836V690 M390,1235V1050 M922,1235V1043 M1100,1235V1038 M1453,1235V1050"/>
<path class="nv" fill="none" stroke-width="2.8" d="M310,432H470 M488,432H648 M842,432H1002 M1020,432H1180 M1197,432H1357 M1373,432H1533 M310,836H470 M665,836H825 M842,836H1002 M1020,836H1180 M1197,836H1357 M1373,836H1533 M310,1235H470 M842,1235H1002 M1020,1235H1180 M1373,1235H1533"/>
<path class="nv" fill="#53B400" d="M745,238 L749,260 755,290 775,320 800,345 810,360 800,375 770,395 759,408 787,420 820,428 825,432 665,432 670,428 703,420 731,408 720,395 690,375 680,360 690,345 715,320 735,290 741,260 Z"/>
<path class="nv" fill="#C49A00" d="M568,650 L571,700 575,730 579,760 580,780 576,800 574,815 583,825 618,832 648,836 488,836 518,832 553,825 562,815 560,800 556,780 557,760 561,730 565,700 Z"/>
<path class="nv" fill="#C49A00" d="M568,1058 L571,1110 575,1140 578,1165 576,1185 573,1205 582,1222 613,1230 648,1235 488,1235 523,1230 554,1222 563,1205 560,1185 558,1165 561,1140 565,1110 Z"/>
<path class="nv" fill="#53B400" d="M745,1088 L753,1110 767,1135 778,1160 780,1175 767,1195 755,1210 773,1222 810,1230 825,1235 665,1235 680,1230 717,1222 735,1210 723,1195 710,1175 712,1160 723,1135 737,1110 Z"/>
<path class="nv" fill="#A58AFF" d="M1277,1103 L1287,1125 1305,1150 1317,1170 1317,1185 1302,1200 1289,1215 1312,1225 1342,1231 1357,1235 1197,1235 1212,1231 1242,1225 1265,1215 1252,1200 1237,1185 1237,1170 1249,1150 1267,1125 Z"/>
<ellipse class="nv" cx="925" cy="1205" rx="4" ry="14" fill="#00C094" stroke-width="1"/>
</g>
<g stroke="#000" stroke-width="2.5" fill="none">
<path d="M1223.8,1983V2100.5H2039 M1223.8,2204.3V2323.5H2039 M1223.8,2422V2540.5H2039"/>
<path d="M1289.7,2100.5v7 M1403.7,2100.5v7 M1517,2100.5v7 M1630.4,2100.5v7 M1744.3,2100.5v7 M1857.7,2100.5v7 M1970.3,2100.5v7"/>
<path d="M1289.7,2323.5v7 M1403.7,2323.5v7 M1517,2323.5v7 M1630.4,2323.5v7 M1744.3,2323.5v7 M1857.7,2323.5v7 M1970.3,2323.5v7"/>
<path d="M1289.7,2540.5v8 M1403.7,2540.5v8 M1517,2540.5v8 M1630.4,2540.5v8 M1744.3,2540.5v8 M1857.7,2540.5v8 M1970.3,2540.5v8"/>
<path d="M1217,2017.4h7 M1217,2096h7 M1217,2220.7h7 M1217,2317h7 M1217,2439.4h7 M1217,2535h7"/>
</g>
<g font-size="36" text-anchor="end">
<text x="1214" y="2030">4</text>
<text x="1214" y="2109">0</text>
<text x="1214" y="2234">3</text>
<text x="1214" y="2330">0</text>
<text x="1214" y="2452">3</text>
<text x="1214" y="2548">0</text>
</g>
<text transform="translate(1163,2281) rotate(-90)" font-size="38" text-anchor="middle">log(nUMI)</text>
<g font-size="40" text-anchor="end">
<text transform="translate(1302,2572) rotate(-45)">Basal/int.</text>
<text transform="translate(1416,2572) rotate(-45)">Endothelial</text>
<text transform="translate(1529,2572) rotate(-45)">Fibroblast</text>
<text transform="translate(1642,2572) rotate(-45)">Luminal</text>
<text transform="translate(1756,2572) rotate(-45)">Mast</text>
<text transform="translate(1870,2572) rotate(-45)">Monocytic</text>
<text transform="translate(1984,2572) rotate(-45)">T</text>
</g>
</svg>
</body></html>
